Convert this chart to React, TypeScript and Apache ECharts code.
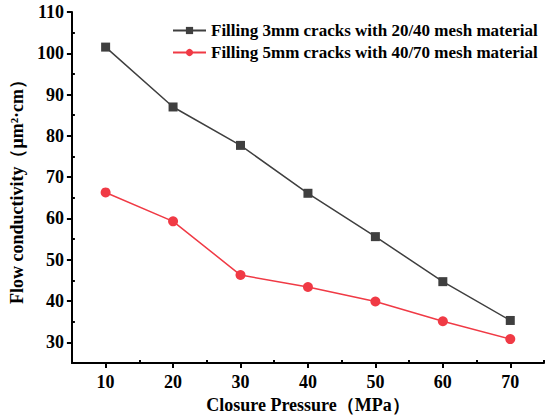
import React, { useEffect, useRef } from "react";
import * as echarts from "echarts";

const pressure = [10, 20, 30, 40, 50, 60, 70];
const series3mm = [101.5, 87.0, 77.7, 66.1, 55.6, 44.7, 35.3];
const series5mm = [66.3, 59.3, 46.3, 43.4, 39.9, 35.1, 30.8];
const xMajorTicks = [10, 20, 30, 40, 50, 60, 70];
const xMinorTicks = [15, 25, 35, 45, 55, 65, 75];
const yMajorTicks = [30, 40, 50, 60, 70, 80, 90, 100, 110];
const yMinorTicks = [35, 45, 55, 65, 75, 85, 95, 105];
const seriesNames = [
  "Filling 3mm cracks with 20/40 mesh material",
  "Filling 5mm cracks with 40/70 mesh material",
];

const FONT = "'Liberation Serif', 'Times New Roman', serif";

export default function App() {
  const ref = useRef<HTMLDivElement>(null);
  useEffect(() => {
    if (!ref.current) return;
    const chart = echarts.init(ref.current, null, { renderer: "svg" });
    const axisLine = { show: true, lineStyle: { color: "#000", width: 2 } };
    const labelStyle = { fontFamily: FONT, fontWeight: "bold", fontSize: 18, color: "#000" };
    const nameStyle = { fontFamily: FONT, fontWeight: "bold", fontSize: 18, color: "#000" };
    chart.setOption({
      animation: false,
      backgroundColor: "#fff",
      grid: { left: 70, right: 6, top: 12, bottom: 55 },
      legend: {
        orient: "vertical",
        left: 167,
        top: 17,
        itemWidth: 33,
        itemHeight: 9,
        itemGap: 5,
        textStyle: { fontFamily: FONT, fontWeight: "bold", fontSize: 17, color: "#000" },
        data: seriesNames,
      },
      xAxis: [
        {
          type: "value",
          min: 5,
          max: 75,
          axisLine,
          splitLine: { show: false },
          axisTick: { show: true, customValues: xMajorTicks, length: 5, lineStyle: { width: 2, color: "#000" } },
          axisLabel: { ...labelStyle, customValues: xMajorTicks, margin: 10 },
          name: "Closure Pressure（MPa）",
          nameLocation: "middle",
          nameGap: 33,
          nameTextStyle: nameStyle,
        },
        {
          type: "value",
          min: 5,
          max: 75,
          position: "bottom",
          axisLine: { show: false },
          splitLine: { show: false },
          axisLabel: { show: false },
          axisTick: { show: true, inside: true, customValues: xMinorTicks, length: 3, lineStyle: { width: 2, color: "#000" } },
        },
      ],
      yAxis: [
        {
          type: "value",
          min: 25,
          max: 110,
          axisLine,
          splitLine: { show: false },
          axisTick: { show: true, customValues: yMajorTicks, length: 5, lineStyle: { width: 2, color: "#000" } },
          axisLabel: { ...labelStyle, customValues: yMajorTicks, margin: 8 },
          name: "Flow conductivity（μm²·cm）",
          nameLocation: "middle",
          nameGap: 45,
          nameTextStyle: nameStyle,
        },
        {
          type: "value",
          min: 25,
          max: 110,
          position: "left",
          axisLine: { show: false },
          splitLine: { show: false },
          axisLabel: { show: false },
          axisTick: { show: true, inside: true, customValues: yMinorTicks, length: 3, lineStyle: { width: 2, color: "#000" } },
        },
      ],
      series: [
        {
          name: seriesNames[0],
          type: "line",
          data: pressure.map((p, i) => [p, series3mm[i]]),
          symbol: "rect",
          symbolSize: 9,
          itemStyle: { color: "#3f3f3f" },
          lineStyle: { color: "#3f3f3f", width: 1.5 },
        },
        {
          name: seriesNames[1],
          type: "line",
          data: pressure.map((p, i) => [p, series5mm[i]]),
          symbol: "circle",
          symbolSize: 10,
          itemStyle: { color: "#f03a45" },
          lineStyle: { color: "#f03a45", width: 1.5 },
        },
      ],
    });
    return () => chart.dispose();
  }, []);
  return <div ref={ref} style={{ width: 550, height: 419, position: "absolute", left: 0, top: 0 }} />;
}
